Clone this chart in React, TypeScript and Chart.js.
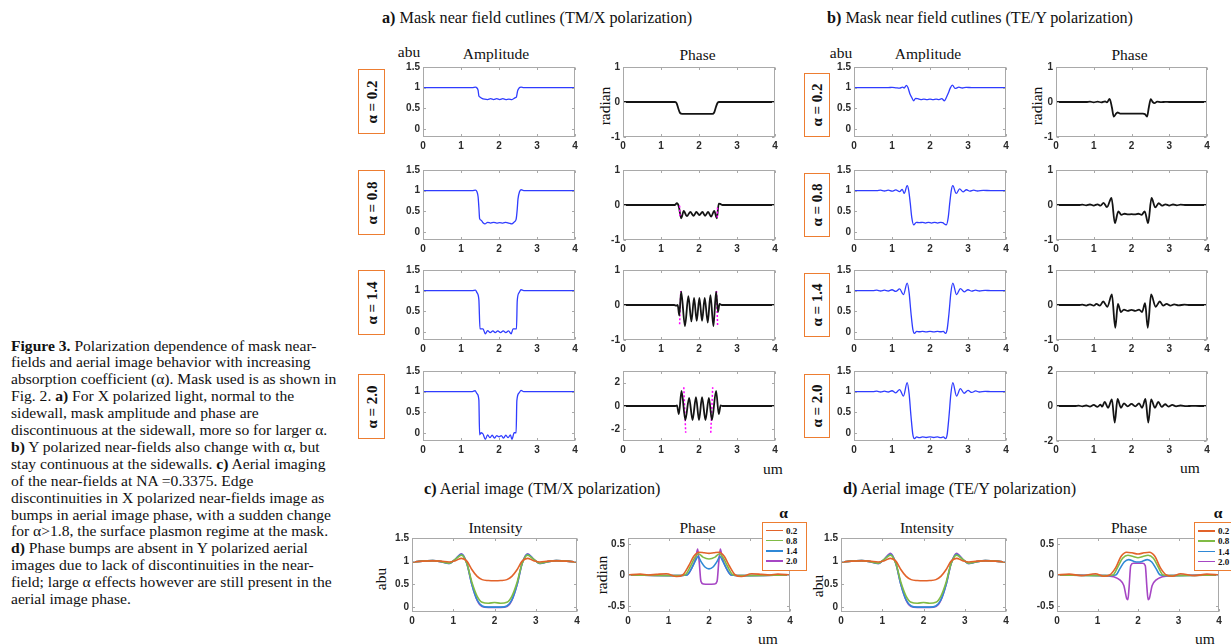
import React, { useEffect, useRef } from "react";
import { Chart, registerables } from "chart.js";
Chart.register(...registerables);

type P = [number, number];

// ---------- tick labels ----------
const X_TICKS = [0, 1, 2, 3, 4];
const AMP_TICKS = [0, 0.5, 1, 1.5];
const PH_TICKS = [-1, 0, 1];
const PH2_TICKS = [-2, 0, 2];
const INT_TICKS = [0, 0.5, 1, 1.5];
const APH_TICKS = [-0.5, 0, 0.5];
const ALPHAS = ["0.2", "0.8", "1.4", "2.0"];

// ---------- a) TM/X near field amplitude ----------
const tmAmp02: P[] = [[0,1],[1.3,1],[1.38,1.01],[1.42,0.99],[1.45,0.93],[1.47,0.8],[1.5,0.77],[1.55,0.74],[1.62,0.72],[1.7,0.71],[1.78,0.73],[1.86,0.71],[1.94,0.73],[2.02,0.71],[2.1,0.73],[2.18,0.71],[2.26,0.72],[2.34,0.71],[2.42,0.75],[2.46,0.78],[2.49,0.92],[2.53,0.99],[2.58,1.01],[2.65,1],[4,1]];
const tmAmp08: P[] = [[0,1],[1.3,1],[1.38,1.01],[1.42,0.97],[1.45,0.85],[1.47,0.6],[1.49,0.32],[1.53,0.28],[1.58,0.22],[1.63,0.19],[1.7,0.23],[1.78,0.21],[1.86,0.23],[1.94,0.21],[2.02,0.22],[2.1,0.21],[2.18,0.23],[2.26,0.21],[2.34,0.19],[2.4,0.24],[2.45,0.3],[2.48,0.55],[2.5,0.8],[2.54,0.97],[2.58,1.02],[2.65,1],[4,1]];
const tmAmp14: P[] = [[0,1],[1.3,1],[1.38,1.01],[1.42,0.95],[1.47,0.78],[1.5,0.07],[1.58,0.07],[1.64,-0.05],[1.7,0.03],[1.77,-0.02],[1.84,0.02],[1.9,-0.02],[1.97,0.02],[2.04,-0.02],[2.11,0.02],[2.18,-0.02],[2.25,0.02],[2.32,-0.05],[2.37,0.07],[2.46,0.07],[2.48,0.75],[2.53,0.95],[2.58,1.02],[2.65,1],[4,1]];
const tmAmp20: P[] = [[0,1],[1.3,1],[1.37,1.02],[1.42,0.95],[1.47,0.8],[1.49,-0.05],[1.53,0.0],[1.58,-0.03],[1.64,-0.16],[1.7,-0.05],[1.76,-0.12],[1.82,-0.06],[1.88,-0.13],[1.94,-0.07],[2.0,-0.1],[2.06,-0.07],[2.12,-0.13],[2.18,-0.06],[2.24,-0.12],[2.3,-0.05],[2.34,-0.16],[2.4,0.0],[2.45,0.0],[2.47,0.78],[2.53,0.97],[2.58,1.03],[2.65,1],[4,1]];

// ---------- a) TM/X near field phase ----------
const tmPh02: P[] = [[0,0],[1.37,0],[1.41,-0.03],[1.46,-0.2],[1.5,-0.31],[1.56,-0.34],[2.35,-0.34],[2.4,-0.3],[2.45,-0.13],[2.49,-0.02],[2.53,0],[4,0]];
const tmPh08: P[] = [[0,0],[1.36,0],[1.42,0.05],[1.47,-0.05],[1.53,-0.38],[1.6,-0.17],[1.68,-0.32],[1.77,-0.2],[1.86,-0.31],[1.93,-0.2],[2.01,-0.29],[2.09,-0.2],[2.16,-0.31],[2.24,-0.2],[2.32,-0.33],[2.4,-0.17],[2.47,-0.38],[2.52,0.04],[2.56,0.03],[2.62,0],[4,0]];
const tmPh08mL: P[] = [[1.49,-0.02],[1.5,-0.36]];
const tmPh08mR: P[] = [[2.48,-0.36],[2.49,-0.02]];
const tmPh14: P[] = [[0,0],[1.35,0],[1.4,-0.02],[1.44,0.0],[1.48,-0.3],[1.53,0.38],[1.63,-0.6],[1.72,0.25],[1.8,-0.47],[1.87,0.2],[1.94,-0.45],[2.01,0.2],[2.08,-0.45],[2.15,0.2],[2.23,-0.5],[2.3,0.28],[2.38,-0.6],[2.45,0.38],[2.5,-0.2],[2.54,0.03],[2.6,0],[4,0]];
const tmPh14mL: P[] = [[1.49,-0.55],[1.52,0.4]];
const tmPh14mR: P[] = [[2.46,0.4],[2.49,-0.6]];
const tmPh20: P[] = [[0,0],[1.38,0],[1.42,0.05],[1.47,-0.7],[1.54,1.3],[1.64,-1.2],[1.74,0.7],[1.83,-1.2],[1.92,0.75],[2.0,-1.2],[2.08,0.75],[2.17,-1.2],[2.26,0.7],[2.34,-1.2],[2.45,1.3],[2.52,-0.7],[2.57,0.05],[2.62,0],[4,0]];
const tmPh20mL: P[] = [[1.6,1.6],[1.65,-2.3]];
const tmPh20mR: P[] = [[2.31,-2.3],[2.36,1.6]];

// ---------- b) TE/Y near field amplitude ----------
const teAmp02: P[] = [[0,1],[0.9,1],[1.0,1.005],[1.1,0.995],[1.2,0.985],[1.28,1.01],[1.32,0.99],[1.38,1.055],[1.42,1.0],[1.47,0.85],[1.52,0.76],[1.57,0.68],[1.62,0.74],[1.68,0.73],[1.76,0.71],[1.84,0.72],[1.92,0.71],[2.0,0.72],[2.08,0.71],[2.16,0.72],[2.24,0.71],[2.31,0.73],[2.38,0.68],[2.43,0.76],[2.48,0.86],[2.53,0.98],[2.59,1.06],[2.66,0.98],[2.76,1.01],[2.85,0.99],[2.95,1.005],[3.1,1],[4,1]];
const teAmp08: P[] = [[0,1],[0.6,1],[0.7,1.01],[0.8,0.99],[0.9,1.01],[1.0,0.985],[1.1,1.015],[1.2,0.975],[1.27,1.03],[1.32,0.93],[1.4,1.12],[1.44,1.0],[1.48,0.7],[1.52,0.35],[1.57,0.17],[1.64,0.23],[1.72,0.22],[1.8,0.23],[1.88,0.21],[1.96,0.23],[2.04,0.21],[2.12,0.23],[2.2,0.21],[2.28,0.23],[2.33,0.22],[2.43,0.17],[2.48,0.35],[2.52,0.7],[2.56,1.0],[2.6,1.12],[2.69,0.93],[2.78,1.04],[2.87,0.97],[2.96,1.02],[3.05,0.985],[3.15,1.01],[3.25,0.99],[3.4,1.005],[3.6,1],[4,1]];
const teAmp14: P[] = [[0,1],[0.5,1],[0.6,1.01],[0.7,0.99],[0.8,1.01],[0.9,0.99],[1.0,1.02],[1.1,0.98],[1.2,1.04],[1.3,0.9],[1.4,1.18],[1.45,0.95],[1.5,0.45],[1.55,0.05],[1.59,-0.04],[1.65,0.01],[1.72,0.0],[1.8,0.01],[1.9,-0.005],[2.0,0.01],[2.1,-0.005],[2.2,0.01],[2.28,0.0],[2.35,0.01],[2.41,-0.04],[2.45,0.05],[2.5,0.45],[2.55,0.95],[2.6,1.18],[2.7,0.9],[2.8,1.05],[2.9,0.97],[3.0,1.02],[3.1,0.985],[3.2,1.01],[3.3,0.99],[3.45,1.005],[3.6,1],[4,1]];
const teAmp20: P[] = [[0,1],[0.5,1],[0.6,1.01],[0.7,0.99],[0.8,1.01],[0.9,0.99],[1.0,1.02],[1.1,0.97],[1.2,1.05],[1.3,0.89],[1.4,1.22],[1.45,0.95],[1.5,0.4],[1.55,-0.05],[1.59,-0.14],[1.65,-0.1],[1.72,-0.12],[1.8,-0.1],[1.9,-0.115],[2.0,-0.1],[2.1,-0.115],[2.2,-0.1],[2.28,-0.12],[2.35,-0.1],[2.41,-0.14],[2.45,-0.05],[2.5,0.4],[2.55,0.95],[2.6,1.22],[2.7,0.89],[2.8,1.07],[2.9,0.96],[3.0,1.03],[3.1,0.98],[3.2,1.015],[3.3,0.99],[3.45,1.005],[3.6,1],[4,1]];

// ---------- b) TE/Y near field phase ----------
const tePh02: P[] = [[0,0],[0.8,0],[0.9,0.01],[1.0,-0.01],[1.1,0.01],[1.2,-0.01],[1.3,0.02],[1.35,-0.01],[1.42,0.09],[1.48,-0.15],[1.53,-0.42],[1.58,-0.35],[1.63,-0.3],[1.7,-0.33],[2.3,-0.33],[2.36,-0.35],[2.41,-0.42],[2.46,-0.15],[2.51,0.08],[2.56,0.0],[2.61,-0.03],[2.68,0.01],[2.78,-0.005],[2.9,0.005],[3.0,0],[4,0]];
const tePh08: P[] = [[0,0],[0.6,0],[0.7,0.01],[0.8,-0.01],[0.9,0.015],[1.0,-0.015],[1.1,0.02],[1.18,-0.02],[1.26,0.06],[1.35,-0.06],[1.47,0.2],[1.56,-0.52],[1.65,-0.18],[1.73,-0.28],[1.82,-0.25],[1.91,-0.27],[2.0,-0.26],[2.09,-0.27],[2.18,-0.25],[2.27,-0.28],[2.35,-0.18],[2.44,-0.52],[2.53,0.2],[2.63,-0.07],[2.72,0.05],[2.81,-0.02],[2.9,0.02],[3.0,-0.015],[3.1,0.015],[3.2,-0.01],[3.3,0.01],[3.45,0],[4,0]];
const tePh14: P[] = [[0,0],[0.6,0],[0.7,0.01],[0.8,-0.015],[0.9,0.02],[1.0,-0.02],[1.07,0.03],[1.16,-0.02],[1.25,0.1],[1.36,-0.05],[1.48,0.3],[1.57,-0.65],[1.64,0.03],[1.72,-0.2],[1.8,-0.13],[1.9,-0.17],[2.0,-0.14],[2.1,-0.17],[2.2,-0.13],[2.28,-0.2],[2.36,0.05],[2.43,-0.65],[2.52,0.3],[2.64,-0.05],[2.75,0.1],[2.84,-0.02],[2.93,0.03],[3.03,-0.02],[3.13,0.02],[3.25,-0.01],[3.4,0.01],[3.55,0],[4,0]];
const tePh20: P[] = [[0,0],[0.5,0],[0.6,0.02],[0.7,-0.02],[0.8,0.03],[0.9,-0.03],[1.0,0.06],[1.1,-0.05],[1.18,0.08],[1.22,-0.04],[1.29,0.23],[1.38,-0.1],[1.48,0.38],[1.555,-0.95],[1.63,0.4],[1.72,-0.1],[1.8,0.15],[1.9,-0.02],[2.0,0.12],[2.1,-0.02],[2.2,0.15],[2.28,-0.1],[2.37,0.4],[2.445,-0.95],[2.52,0.38],[2.62,-0.1],[2.71,0.23],[2.8,-0.05],[2.89,0.1],[2.98,-0.03],[3.08,0.06],[3.18,-0.02],[3.3,0.03],[3.45,-0.01],[3.6,0.01],[3.8,0],[4,0]];

// ---------- c/d) aerial image intensity ----------
const aerialX = [0,0.25,0.5,0.7,0.9,1.05,1.2,1.33,1.45,1.58,1.7,1.85,2.0,2.15,2.3,2.42,2.55,2.67,2.8,2.95,3.1,3.3,3.5,3.75,4];
const tmInt02 = [0.98,1.0,1.005,1.0,0.98,1.01,1.06,1.0,0.82,0.67,0.6,0.58,0.575,0.58,0.6,0.67,0.82,1.0,1.06,1.01,0.98,1.0,1.005,1.0,0.98];
const tmInt08 = [0.98,1.0,1.01,0.99,0.955,1.04,1.13,0.95,0.55,0.24,0.11,0.09,0.105,0.09,0.11,0.24,0.55,0.95,1.13,1.04,0.955,0.99,1.01,1.0,0.98];
const tmInt14 = [0.98,1.0,1.01,0.99,0.95,1.04,1.15,0.95,0.5,0.16,0.03,0.005,0.005,0.005,0.03,0.16,0.5,0.95,1.15,1.04,0.95,0.99,1.01,1.0,0.98];
const tmInt20 = [0.98,1.0,1.01,0.99,0.95,1.04,1.16,0.95,0.5,0.15,0.02,0.0,0.0,0.0,0.02,0.15,0.5,0.95,1.16,1.04,0.95,0.99,1.01,1.0,0.98];
const teInt02 = [0.98,1.0,1.005,1.0,0.98,1.01,1.06,1.0,0.82,0.67,0.6,0.58,0.575,0.58,0.6,0.67,0.82,1.0,1.06,1.01,0.98,1.0,1.005,1.0,0.98];
const teInt08 = [0.98,1.0,1.01,0.99,0.955,1.04,1.13,0.95,0.55,0.24,0.11,0.09,0.105,0.09,0.11,0.24,0.55,0.95,1.13,1.04,0.955,0.99,1.01,1.0,0.98];
const teInt14 = [0.98,1.0,1.01,0.99,0.95,1.04,1.15,0.95,0.5,0.16,0.03,0.005,0.005,0.005,0.03,0.16,0.5,0.95,1.15,1.04,0.95,0.99,1.01,1.0,0.98];
const teInt20 = [0.98,1.0,1.01,0.99,0.95,1.04,1.17,0.95,0.5,0.15,0.02,0.0,0.0,0.0,0.02,0.15,0.5,0.95,1.17,1.04,0.95,0.99,1.01,1.0,0.98];

// ---------- c) aerial image phase TM/X ----------
const tmAph02: P[] = [[0,0],[0.3,0.015],[0.5,0],[0.7,0.01],[0.95,0.02],[1.2,-0.025],[1.35,0],[1.5,0.15],[1.62,0.3],[1.75,0.37],[1.88,0.36],[2.0,0.35],[2.12,0.36],[2.25,0.37],[2.38,0.3],[2.5,0.15],[2.65,0],[2.8,-0.025],[3.05,0.02],[3.3,0.01],[3.5,0],[3.7,0.015],[4,0]];
const tmAph08: P[] = [[0,0],[1.2,-0.01],[1.4,0],[1.55,0.15],[1.65,0.28],[1.75,0.34],[1.85,0.29],[2.0,0.26],[2.15,0.29],[2.25,0.34],[2.35,0.28],[2.45,0.15],[2.6,0],[2.8,-0.01],[4,0]];
const tmAph14: P[] = [[0,0],[1.2,-0.01],[1.45,0],[1.58,0.12],[1.68,0.25],[1.73,0.3],[1.8,0.22],[1.9,0.13],[2.0,0.1],[2.1,0.13],[2.2,0.22],[2.27,0.3],[2.32,0.25],[2.42,0.12],[2.55,0],[2.8,-0.01],[4,0]];
const tmAph20: P[] = [[0,0],[1.2,-0.01],[1.45,0],[1.58,0.12],[1.67,0.27],[1.72,0.42],[1.76,0.2],[1.8,-0.1],[1.86,-0.145],[2.0,-0.15],[2.14,-0.145],[2.2,-0.1],[2.24,0.2],[2.28,0.42],[2.33,0.27],[2.42,0.12],[2.55,0],[2.8,-0.01],[4,0]];

// ---------- d) aerial image phase TE/Y ----------
const teAph02: P[] = [[0,0],[0.3,0.015],[0.6,-0.01],[0.95,0.02],[1.15,-0.02],[1.3,0],[1.45,0.12],[1.58,0.3],[1.72,0.37],[1.85,0.36],[2.0,0.34],[2.15,0.36],[2.28,0.37],[2.42,0.3],[2.55,0.12],[2.7,0],[2.85,-0.02],[3.05,0.02],[3.4,-0.01],[3.7,0.015],[4,0]];
const teAph08: P[] = [[0,0],[1.2,-0.01],[1.38,0],[1.5,0.13],[1.62,0.27],[1.75,0.32],[1.88,0.3],[2.0,0.28],[2.12,0.3],[2.25,0.32],[2.38,0.27],[2.5,0.13],[2.62,0],[2.8,-0.01],[4,0]];
const teAph14: P[] = [[0,0],[1.2,-0.01],[1.45,0],[1.55,0.1],[1.66,0.21],[1.77,0.25],[1.9,0.22],[2.0,0.21],[2.1,0.22],[2.23,0.25],[2.34,0.21],[2.45,0.1],[2.55,0],[2.8,-0.01],[4,0]];
const teAph20: P[] = [[0,0],[1.2,-0.01],[1.4,-0.03],[1.55,-0.08],[1.65,-0.17],[1.72,-0.38],[1.75,-0.4],[1.78,-0.2],[1.82,0.15],[1.88,0.19],[2.0,0.19],[2.12,0.19],[2.18,0.15],[2.22,-0.2],[2.25,-0.4],[2.28,-0.38],[2.35,-0.17],[2.45,-0.08],[2.6,-0.03],[2.8,-0.01],[4,0]];

// ---------- styling ----------
const SERIF = '"Liberation Serif", "Times New Roman", serif';
const SANS = '"Liberation Sans", Arial, sans-serif';
const BLUE = "#2f3cff";
const BLACK = "#141414";
const MAGENTA = "#ff00ff";
const A_COLORS = ["#e2632a", "#80bb45", "#2f88d6", "#a646c4"];
const BOX = "#ed7d31";

type Series = { pts: P[]; color: string; width: number; dash?: number[] };

const zip = (xs: number[], ys: number[]): P[] => xs.map((x, i) => [x, ys[i]] as P);

const boxPlugin = {
  id: "mbox",
  afterDatasetsDraw(chart: any) {
    const { ctx, chartArea: a, scales } = chart;
    ctx.save();
    ctx.strokeStyle = "#a9a9a9";
    ctx.lineWidth = 1;
    const L = Math.round(a.left) + 0.5, R = Math.round(a.right) - 0.5;
    const T = Math.round(a.top) + 0.5, B = Math.round(a.bottom) - 0.5;
    ctx.strokeRect(L, T, R - L, B - T);
    ctx.beginPath();
    scales.x.ticks.forEach((t: any) => {
      const px = Math.round(scales.x.getPixelForValue(t.value)) + 0.5;
      ctx.moveTo(px, B); ctx.lineTo(px, B - 2.5);
      ctx.moveTo(px, T); ctx.lineTo(px, T + 2.5);
    });
    scales.y.ticks.forEach((t: any) => {
      const py = Math.round(scales.y.getPixelForValue(t.value)) + 0.5;
      ctx.moveTo(L, py); ctx.lineTo(L + 2.5, py);
      ctx.moveTo(R, py); ctx.lineTo(R - 2.5, py);
    });
    ctx.stroke();
    ctx.restore();
  },
};

type PlotProps = { left: number; top: number; width: number; height: number; series: Series[]; yMin: number; yMax: number; yTicks: number[] };

function Plot({ left, top, width, height, series, yMin, yMax, yTicks }: PlotProps) {
  const ref = useRef<HTMLCanvasElement>(null);
  const ML = 34, MT = 8, MR = 8, MB = 22;
  useEffect(() => {
    const tickFont = { family: SANS, size: 10, weight: "bold" as const };
    const chart = new Chart(ref.current!, {
      type: "line",
      data: {
        datasets: series.map((s) => ({
          data: s.pts.map((p) => ({ x: p[0], y: p[1] })),
          borderColor: s.color,
          borderWidth: s.width,
          borderDash: s.dash || [],
          pointRadius: 0,
          cubicInterpolationMode: "monotone" as const,
          fill: false,
        })),
      },
      options: {
        animation: false,
        responsive: false,
        events: [],
        layout: { padding: { left: 0, top: MT, right: MR, bottom: 0 } },
        plugins: { legend: { display: false }, tooltip: { enabled: false }, title: { display: false } },
        scales: {
          x: {
            type: "linear",
            min: 0,
            max: 4,
            grid: { display: false, drawTicks: false },
            border: { display: false },
            afterBuildTicks: (s: any) => { s.ticks = X_TICKS.map((v) => ({ value: v })); },
            ticks: { font: tickFont, color: "#2a2a2a", padding: 3, maxRotation: 0, autoSkip: false, callback: (v: any) => String(v) },
            afterFit: (s: any) => { s.height = MB; s.paddingLeft = 0; s.paddingRight = 0; },
          },
          y: {
            type: "linear",
            min: yMin,
            max: yMax,
            grid: { display: false, drawTicks: false },
            border: { display: false },
            afterBuildTicks: (s: any) => { s.ticks = yTicks.map((v) => ({ value: v })); },
            ticks: { font: tickFont, color: "#2a2a2a", padding: 3, autoSkip: false, callback: (v: any) => String(v) },
            afterFit: (s: any) => { s.width = ML; s.paddingTop = 0; s.paddingBottom = 0; },
          },
        },
      },
      plugins: [boxPlugin],
    });
    return () => chart.destroy();
  }, []);
  return (
    <canvas
      ref={ref}
      width={width + ML + MR}
      height={height + MT + MB}
      style={{ position: "absolute", left: left - ML, top: top - MT, width: width + ML + MR, height: height + MT + MB }}
    />
  );
}

type TProps = { x: number; y: number; size?: number; bold?: boolean; rot?: boolean; left?: boolean; family?: string; children: React.ReactNode };
function Txt({ x, y, size = 15.5, bold = false, rot = false, left = false, family = SERIF, children }: TProps) {
  return (
    <div
      style={{
        position: "absolute",
        left: x,
        top: y,
        transform: `translate(${left ? "0" : "-50%"},-50%)${rot ? " rotate(-90deg)" : ""}`,
        fontFamily: family,
        fontSize: size,
        fontWeight: bold ? "bold" : "normal",
        whiteSpace: "nowrap",
        color: "#111",
        lineHeight: 1,
      }}
    >
      {children}
    </div>
  );
}

function RowBox({ x, y, w, h, label }: { x: number; y: number; w: number; h: number; label: string }) {
  return (
    <div style={{ position: "absolute", left: x, top: y, width: w, height: h, border: `1.5px solid ${BOX}`, boxSizing: "border-box", background: "#fff" }}>
      <div style={{ position: "absolute", left: "50%", top: "50%", transform: "translate(-50%,-50%) rotate(-90deg)", fontFamily: SERIF, fontWeight: "bold", fontSize: 15, whiteSpace: "nowrap", color: "#111" }}>
        α = {label}
      </div>
    </div>
  );
}

function Legend({ x, y, w }: { x: number; y: number; w: number }) {
  return (
    <div style={{ position: "absolute", left: x, top: y, width: w, height: 49, border: `1.5px solid ${BOX}`, boxSizing: "border-box", background: "#fff" }}>
      {ALPHAS.map((a, i) => (
        <div key={a} style={{ position: "absolute", left: 3, top: 3 + i * 10.3, height: 10, width: 40 }}>
          <div style={{ position: "absolute", left: 0, top: 4, width: 17, height: 1.5, background: A_COLORS[i] }} />
          <div style={{ position: "absolute", left: 20, top: 0, fontFamily: SERIF, fontWeight: "bold", fontSize: 9, lineHeight: "10px", color: "#111" }}>{a}</div>
        </div>
      ))}
    </div>
  );
}

const CAPTION: React.ReactNode[] = [
  <><b>Figure 3.</b> Polarization dependence of mask near-</>,
  <>fields and aerial image behavior with increasing</>,
  <>absorption coefficient (α). Mask used is as shown in</>,
  <>Fig. 2. <b>a)</b> For X polarized light, normal to the</>,
  <>sidewall, mask amplitude and phase are</>,
  <>discontinuous at the sidewall, more so for larger α.</>,
  <><b>b)</b> Y polarized near-fields also change with α, but</>,
  <>stay continuous at the sidewalls. <b>c)</b> Aerial imaging</>,
  <>of the near-fields at NA =0.3375. Edge</>,
  <>discontinuities in X polarized near-fields image as</>,
  <>bumps in aerial image phase, with a sudden change</>,
  <>for α&gt;1.8, the surface plasmon regime at the mask.</>,
  <><b>d)</b> Phase bumps are absent in Y polarized aerial</>,
  <>images due to lack of discontinuities in the near-</>,
  <>field; large α effects however are still present in the</>,
  <>aerial image phase.</>,
];

export default function App() {
  useEffect(() => {
    document.body.style.margin = "0";
  }, []);

  const ROWS = [67, 170, 270, 371];
  const RH = 70;
  const tmAmps = [tmAmp02, tmAmp08, tmAmp14, tmAmp20];
  const teAmps = [teAmp02, teAmp08, teAmp14, teAmp20];
  const tmPhs: Series[][] = [
    [{ pts: tmPh02, color: BLACK, width: 1.8 }],
    [{ pts: tmPh08mL, color: MAGENTA, width: 1.5, dash: [2, 2] }, { pts: tmPh08mR, color: MAGENTA, width: 1.5, dash: [2, 2] }, { pts: tmPh08, color: BLACK, width: 1.8 }],
    [{ pts: tmPh14, color: BLACK, width: 1.8 }, { pts: tmPh14mL, color: MAGENTA, width: 1.5, dash: [2, 2] }, { pts: tmPh14mR, color: MAGENTA, width: 1.5, dash: [2, 2] }],
    [{ pts: tmPh20, color: BLACK, width: 1.8 }, { pts: tmPh20mL, color: MAGENTA, width: 1.5, dash: [2, 2] }, { pts: tmPh20mR, color: MAGENTA, width: 1.5, dash: [2, 2] }],
  ];
  const tePhs = [tePh02, tePh08, tePh14, tePh20];
  const tmPhRange: [number, number, number[]][] = [[-1, 1, PH_TICKS], [-1, 1, PH_TICKS], [-1, 1, PH_TICKS], [-3, 3, PH2_TICKS]];
  const tePhRange: [number, number, number[]][] = [[-1, 1, PH_TICKS], [-1, 1, PH_TICKS], [-1, 1, PH_TICKS], [-2, 2, PH2_TICKS]];

  const tmInts = [tmInt02, tmInt08, tmInt14, tmInt20];
  const teInts = [teInt02, teInt08, teInt14, teInt20];
  const tmAphs = [tmAph02, tmAph08, tmAph14, tmAph20];
  const teAphs = [teAph02, teAph08, teAph14, teAph20];

  return (
    <div style={{ position: "absolute", left: 0, top: 0, width: 1231, height: 644, background: "#fff", overflow: "hidden" }}>
      {/* caption */}
      <div style={{ position: "absolute", left: 11, top: 337.5, fontFamily: SERIF, fontSize: 15.6, lineHeight: "16.9px", color: "#111", whiteSpace: "nowrap" }}>
        {CAPTION.map((c, i) => (<div key={i}>{c}</div>))}
      </div>

      {/* section titles */}
      <Txt x={382} y={18} left size={16.2}><b>a)</b> Mask near field cutlines (TM/X polarization)</Txt>
      <Txt x={827} y={18} left size={16.2}><b>b)</b> Mask near field cutlines (TE/Y polarization)</Txt>
      <Txt x={424} y={489} left size={16.2}><b>c)</b> Aerial image (TM/X polarization)</Txt>
      <Txt x={843} y={489} left size={16.2}><b>d)</b> Aerial image (TE/Y polarization)</Txt>

      {/* panel headers a/b */}
      <Txt x={409} y={52}>abu</Txt>
      <Txt x={496} y={54}>Amplitude</Txt>
      <Txt x={697.5} y={55}>Phase</Txt>
      <Txt x={605} y={106} rot>radian</Txt>
      <Txt x={841} y={53}>abu</Txt>
      <Txt x={928} y={54}>Amplitude</Txt>
      <Txt x={1129.5} y={55}>Phase</Txt>
      <Txt x={1037} y={106} rot>radian</Txt>
      <Txt x={773} y={469}>um</Txt>
      <Txt x={1190} y={468}>um</Txt>

      {/* row label boxes */}
      {ALPHAS.map((a, i) => (
        <RowBox key={"ra" + a} x={358} y={[69, 170, 270, 374][i]} w={27} h={65} label={a} />
      ))}
      {ALPHAS.map((a, i) => (
        <RowBox key={"rb" + a} x={804} y={[73, 173, 273, 374][i]} w={26} h={64} label={a} />
      ))}

      {/* near-field grids */}
      {ROWS.map((top, i) => (
        <React.Fragment key={"row" + i}>
          <Plot left={423} top={top} width={152} height={RH} yMin={-0.2} yMax={1.5} yTicks={AMP_TICKS} series={[{ pts: tmAmps[i], color: BLUE, width: 1.3 }]} />
          <Plot left={623} top={top} width={152} height={RH} yMin={tmPhRange[i][0]} yMax={tmPhRange[i][1]} yTicks={tmPhRange[i][2]} series={tmPhs[i]} />
          <Plot left={854} top={top} width={152} height={RH} yMin={-0.2} yMax={1.5} yTicks={AMP_TICKS} series={[{ pts: teAmps[i], color: BLUE, width: 1.3 }]} />
          <Plot left={1056} top={top} width={151} height={RH} yMin={tePhRange[i][0]} yMax={tePhRange[i][1]} yTicks={tePhRange[i][2]} series={[{ pts: tePhs[i], color: BLACK, width: 1.8 }]} />
        </React.Fragment>
      ))}

      {/* aerial images */}
      <Txt x={495.5} y={528}>Intensity</Txt>
      <Txt x={697.5} y={528}>Phase</Txt>
      <Txt x={927} y={528}>Intensity</Txt>
      <Txt x={1129} y={528}>Phase</Txt>
      <Txt x={381} y={579} rot>abu</Txt>
      <Txt x={602} y={575} rot>radian</Txt>
      <Txt x={818} y={586} rot>abu</Txt>
      <Txt x={768} y={639}>um</Txt>
      <Txt x={1205} y={639}>um</Txt>

      <Plot left={412} top={538} width={165} height={74} yMin={-0.1} yMax={1.5} yTicks={INT_TICKS}
        series={tmInts.map((ys, i) => ({ pts: zip(aerialX, ys), color: A_COLORS[i], width: 1.6 }))} />
      <Plot left={628} top={538} width={162} height={74} yMin={-0.6} yMax={0.6} yTicks={APH_TICKS}
        series={tmAphs.map((p, i) => ({ pts: p, color: A_COLORS[i], width: 1.6 }))} />
      <Plot left={841} top={538} width={165} height={74} yMin={-0.1} yMax={1.5} yTicks={INT_TICKS}
        series={teInts.map((ys, i) => ({ pts: zip(aerialX, ys), color: A_COLORS[i], width: 1.6 }))} />
      <Plot left={1057} top={538} width={162} height={74} yMin={-0.6} yMax={0.6} yTicks={APH_TICKS}
        series={teAphs.map((p, i) => ({ pts: p, color: A_COLORS[i], width: 1.6 }))} />

      {/* legends */}
      <Txt x={783.5} y={513} bold>α</Txt>
      <Legend x={762} y={521.5} w={45} />
      <Txt x={1218} y={512.5} bold>α</Txt>
      <Legend x={1194} y={522} w={45} />
    </div>
  );
}
